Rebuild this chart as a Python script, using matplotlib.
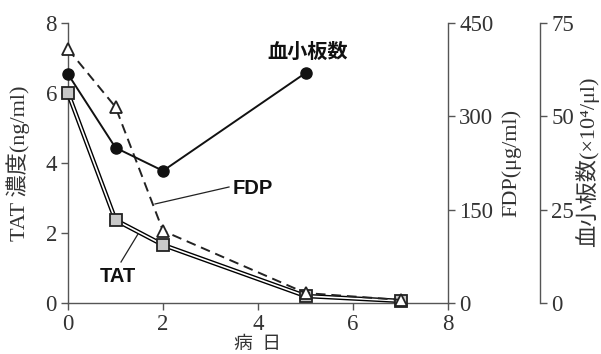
import matplotlib
matplotlib.use("Agg")
import matplotlib.pyplot as plt

days = [0, 1, 2, 5, 7]
tat = [6.0, 2.37, 1.66, 0.2, 0.06]
fdp = [408, 315, 116, 16, 5]
plt_days = [0, 1, 2, 5]
platelet = [61.3, 41.6, 35.4, 61.6]

x_ticks = [0, 2, 4, 6, 8]
tat_ticks = [0, 2, 4, 6, 8]
fdp_ticks = [0, 150, 300, 450]
plt_ticks = [0, 25, 50, 75]

SERIF = ['Liberation Serif', 'Noto Sans CJK JP', 'DejaVu Sans']
SANSB = ['Liberation Sans', 'Noto Sans CJK JP']
TXT = '#333333'
SP = '#555555'

fig = plt.figure(figsize=(6.01, 3.54), dpi=100)
ax = fig.add_axes([68/601, 1-303/354, 380/601, 280/354])
ax2 = ax.twinx()
ax3 = ax.twinx()

for a in (ax, ax2, ax3):
    a.patch.set_visible(False)
    a.spines['top'].set_visible(False)
    for s in a.spines.values():
        s.set_color(SP)
        s.set_linewidth(1.0)
ax.spines['right'].set_visible(False)
ax3.spines['left'].set_visible(False)
ax2.spines['left'].set_visible(False)
ax2.spines['bottom'].set_visible(False)
ax3.spines['bottom'].set_visible(False)
ax3.spines['right'].set_position(('axes', (540-68)/380))

ax.set_xlim(0, 8)
ax.set_ylim(0, 8)
ax2.set_ylim(0, 450)
ax3.set_ylim(0, 75)
ax.set_xticks(x_ticks)
ax.set_yticks(tat_ticks)
ax2.set_yticks(fdp_ticks)
ax3.set_yticks(plt_ticks)

for a in (ax, ax2, ax3):
    a.tick_params(colors=SP, labelcolor=TXT, labelsize=16.5, length=5, width=1.0, pad=3)
    for lbl in a.get_xticklabels() + a.get_yticklabels():
        lbl.set_family(SERIF)

# TAT double line
ax.plot(days, tat, color='black', lw=3.2, zorder=3, solid_joinstyle='miter', clip_on=False)
ax.plot(days, tat, color='white', lw=1.2, zorder=4, solid_joinstyle='miter', clip_on=False)
ax.plot(days, tat, ls='none', marker='s', ms=8, mfc='#c8c8c8', mec='#222222', mew=1.3,
        zorder=5, clip_on=False)

# FDP dashed
ax2.plot(days, fdp, color='#222222', lw=1.4, ls=(0, (5, 3)), marker='^', ms=9,
         mfc='white', mec='#222222', mew=1.3, zorder=3, clip_on=False)

# platelet
ax3.plot(plt_days, platelet, color='#111111', lw=1.4, marker='o', ms=8,
         mfc='#111111', mec='#111111', zorder=3, clip_on=False)

ax.set_xlabel('病  日', family=SERIF, fontsize=13.5, color=TXT)
ax.set_ylabel('TAT 濃度(ng/ml)', family=SERIF, fontsize=16, color=TXT)
ax2.set_ylabel('FDP(μg/ml)', family=SERIF, fontsize=16, color=TXT)
ax3.set_ylabel('血小板数(×10⁴/μl)', family=SERIF, fontsize=16, color=TXT)

ax.xaxis.set_label_coords((258-68)/380, (303-344)/280)
ax.xaxis.label.set_va('center')
ax.yaxis.set_label_coords((18-68)/380, 0.5)
ax.yaxis.label.set_va('center')
ax2.yaxis.set_label_coords((512-68)/380, (303-163)/280)
ax2.yaxis.label.set_va('center')
ax3.yaxis.set_label_coords((587-68)/380, (303-162)/280)
ax3.yaxis.label.set_va('center')

fig.text(308/601, 1-52/354, '血小板数', family=SANSB, fontsize=14.5, fontweight='bold',
         color='#111111', ha='center', va='center')
fig.text(253/601, 1-188/354, 'FDP', family=SANSB, fontsize=14.5, fontweight='bold',
         color='#111111', ha='center', va='center')
fig.text(118/601, 1-277/354, 'TAT', family=SANSB, fontsize=14.5, fontweight='bold',
         color='#111111', ha='center', va='center')
fig.add_artist(plt.Line2D([229/601, 155/601], [1-187/354, 1-204/354], color='#222222', lw=0.9))
fig.add_artist(plt.Line2D([121/601, 138/601], [1-262/354, 1-234/354], color='#222222', lw=0.9))

fig.savefig('out.png', dpi=100)
